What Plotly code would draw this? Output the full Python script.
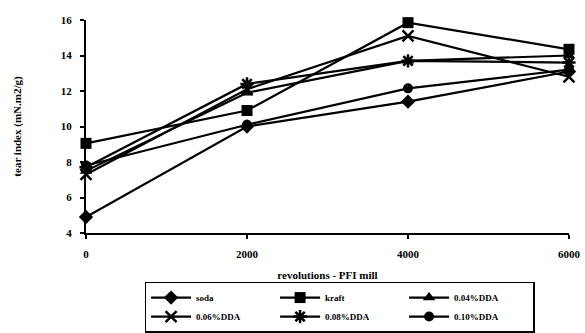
import plotly.graph_objects as go

revolutions = [0, 2000, 4000, 6000]
series_names = ["soda", "kraft", "0.04%DDA", "0.06%DDA", "0.08%DDA", "0.10%DDA"]
soda = [4.9, 10.0, 11.4, 13.1]
kraft = [9.05, 10.9, 15.85, 14.35]
dda_004 = [7.5, 11.9, 13.7, 14.0]
dda_006 = [7.3, 12.1, 15.1, 12.8]
dda_008 = [7.7, 12.4, 13.7, 13.6]
dda_010 = [7.8, 10.1, 12.15, 13.2]
y_ticks = [4, 6, 8, 10, 12, 14, 16]
x_ticks = [0, 2000, 4000, 6000]

values = [soda, kraft, dda_004, dda_006, dda_008, dda_010]
symbols = ["diamond", "square", "triangle-up", "x-thin", "asterisk", "circle"]
sizes = [11, 11, 11, 11, 11, 10]

font_family = "Liberation Serif, Times New Roman, serif"

fig = go.Figure()
for name, vals, sym, sz in zip(series_names, values, symbols, sizes):
    thin = sym in ("x-thin", "asterisk")
    fig.add_trace(go.Scatter(
        x=revolutions, y=vals, name=f"<b>{name}</b>", mode="lines+markers",
        line=dict(color="black", width=2.2),
        marker=dict(symbol=sym, size=sz, color="black",
                    line=dict(color="black", width=2.5 if thin else 0)),
        cliponaxis=False,
    ))

fig.update_layout(
    width=585, height=333,
    margin=dict(l=86, r=16, t=20, b=100, autoexpand=False),
    paper_bgcolor="white", plot_bgcolor="white",
    font=dict(family=font_family, color="black", size=11),
    showlegend=True,
    legend=dict(
        orientation="h", x=0.525, xanchor="center", y=-0.228, yanchor="top",
        bordercolor="black", borderwidth=1.5, bgcolor="white",
        font=dict(family=font_family, size=9, color="black"),
        entrywidth=74, entrywidthmode="pixels",
        itemwidth=40, traceorder="normal",
    ),
)
fig.update_xaxes(
    range=[0, 6000], tickvals=x_ticks, ticktext=[f"<b>{v}</b>" for v in x_ticks],
    showgrid=False, zeroline=False, showline=True, linecolor="black", linewidth=2,
    ticks="outside", ticklen=4, tickcolor="black", tickwidth=1.5,
    tickfont=dict(size=11), ticklabelstandoff=6,
    title=dict(text="<b>revolutions - PFI mill</b>", font=dict(size=11), standoff=12),
)
fig.update_yaxes(
    range=[4, 16], tickvals=y_ticks, ticktext=[f"<b>{v}</b>" for v in y_ticks],
    showgrid=False, zeroline=False, showline=True, linecolor="black", linewidth=2,
    ticks="outside", ticklen=4, tickcolor="black", tickwidth=1.5,
    tickfont=dict(size=11), ticklabelstandoff=6,
    title=dict(text="<b>tear index (mN.m2/g)</b>", font=dict(size=11), standoff=37),
)

fig.write_html("out.html")
